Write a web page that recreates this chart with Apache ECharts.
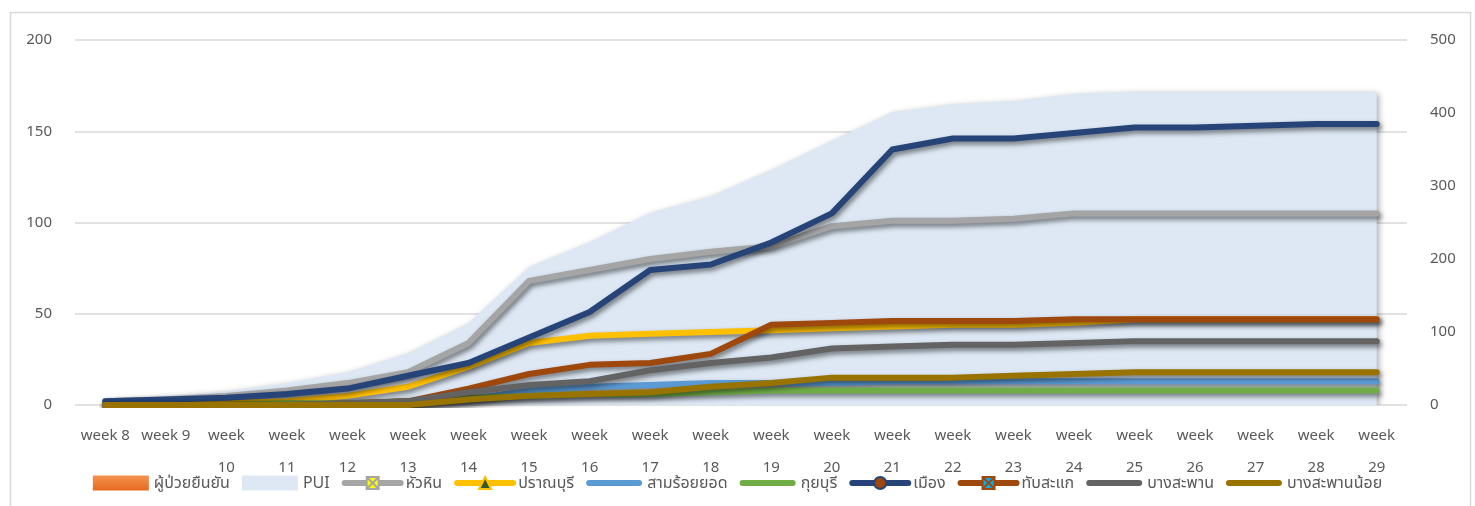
<!DOCTYPE html>
<html>
<head>
<meta charset="utf-8">
<script src="https://cdn.jsdelivr.net/npm/echarts@6/dist/echarts.min.js"></script>
<style>
html,body{margin:0;padding:0;background:#fff;}
#chart{width:1475px;height:506px;}
</style>
</head>
<body>
<div id="chart"></div>
<script>
// ---- data ----
var weeks = ['week 8','week 9','week 10','week 11','week 12','week 13','week 14','week 15','week 16','week 17','week 18','week 19','week 20','week 21','week 22','week 23','week 24','week 25','week 26','week 27','week 28','week 29'];
var confirmed   = [0,0,0,0,0,0,0,0,0,0,0,0,0,0,0,0,0,0,0,0,0,0];
var pui         = [6,12,19,30,45,71,112,189,223,263,286,322,362,401,412,416,426,429,429,429,429,429];
var huaHin      = [2,3,5,8,12,18,34,68,74,80,84,87,98,101,101,102,105,105,105,105,105,105];
var pranburi    = [0,0,1,2,5,10,21,34,38,39,40,41,42,43,44,44,45,47,47,47,47,47];
var samRoiYot   = [0,0,0,0,0,1,3,8,10,11,12,12,12,13,13,13,13,13,13,13,13,13];
var kuiBuri     = [0,0,0,1,1,2,4,5,6,6,7,8,8,8,8,8,8,8,8,8,8,8];
var mueang      = [2,3,4,6,9,16,23,37,51,74,77,89,105,140,146,146,149,152,152,153,154,154];
var thapSakae   = [0,0,0,0,1,2,9,17,22,23,28,44,45,46,46,46,47,47,47,47,47,47];
var bangSaphan  = [0,0,0,0,1,2,7,11,13,19,23,26,31,32,33,33,34,35,35,35,35,35];
var bangSaphanNoi = [0,0,0,0,0,0,3,5,6,7,10,12,15,15,15,16,17,18,18,18,18,18];
var leftTicks = [0,50,100,150,200];
var rightTicks = [0,100,200,300,400,500];

var FONT = "'Noto Sans', 'Noto Sans Thai', 'DejaVu Sans', sans-serif";
var TXT = '#595959';
var shadow = {shadowColor:'rgba(0,0,0,0.5)', shadowBlur:5, shadowOffsetX:2, shadowOffsetY:3};
var BAR_ICON = 'path://M3,0H53A3,3 0 0 1 53,6H3A3,3 0 0 1 3,0Z';

function lineSeries(name, data, color, symbol, itemStyle, z){
  return {
    name: name, type: 'line', data: data, yAxisIndex: 0, z: z,
    symbol: symbol || 'none', symbolSize: 15, showSymbol: false,
    itemStyle: itemStyle || {color: color},
    lineStyle: Object.assign({color: color, width: 6, cap: 'round', join: 'round'}, shadow),
    emphasis: {disabled: true}
  };
}

var chart = echarts.init(document.getElementById('chart'), null, {renderer: 'canvas'});
var option = {
  animation: false,
  backgroundColor: '#fff',
  textStyle: {fontFamily: FONT},
  graphic: [{
    type: 'rect', left: 8, top: 10, z: -10,
    shape: {width: 1460, height: 520},
    style: {fill: 'none', stroke: '#D9D9D9', lineWidth: 1.5}
  }],
  grid: {left: 75, right: 68, top: 40, bottom: 101, containLabel: false},
  legend: {
    left: 'center', top: 470,
    itemWidth: 56, itemHeight: 15, itemGap: 12,
    symbolKeepAspect: true,
    lineStyle: {width: 6, cap: 'round'},
    textStyle: {fontFamily: FONT, fontSize: 16, color: TXT},
    data: [
      {name: 'ผู้ป่วยยืนยัน', icon: 'rect'},
      {name: 'PUI', icon: 'rect', itemStyle: {color: '#DDE8F4'}},
      'หัวหิน','ปราณบุรี',
      {name: 'สามร้อยยอด', icon: BAR_ICON},
      {name: 'กุยบุรี', icon: BAR_ICON},
      'เมือง','ทับสะแก',
      {name: 'บางสะพาน', icon: BAR_ICON},
      {name: 'บางสะพานน้อย', icon: BAR_ICON}
    ]
  },
  xAxis: {
    type: 'category', data: weeks, boundaryGap: true,
    axisLine: {show: false}, axisTick: {show: false},
    axisLabel: {
      interval: 0, margin: 15, color: TXT, fontSize: 15, fontFamily: FONT, lineHeight: 32,
      formatter: function(v){
        var n = parseInt(v.replace('week ',''), 10);
        return n >= 10 ? 'week\n' + n : v;
      }
    }
  },
  yAxis: [{
    type: 'value', min: leftTicks[0], max: leftTicks[leftTicks.length-1], interval: 50,
    axisLine: {show: false}, axisTick: {show: false},
    axisLabel: {color: TXT, fontSize: 15, fontFamily: FONT, margin: 23},
    splitLine: {lineStyle: {color: '#D9D9D9', width: 1.5}}
  }, {
    type: 'value', min: rightTicks[0], max: rightTicks[rightTicks.length-1], interval: 100,
    axisLine: {show: false}, axisTick: {show: false},
    axisLabel: {color: TXT, fontSize: 15, fontFamily: FONT, margin: 23},
    splitLine: {show: false}
  }],
  series: [
    {
      name: 'ผู้ป่วยยืนยัน', type: 'bar', data: confirmed, yAxisIndex: 0,
      itemStyle: {color: new echarts.graphic.LinearGradient(0,0,0,1,[{offset:0,color:'#F4914F'},{offset:1,color:'#E56B1F'}])}
    },
    {
      name: 'PUI', type: 'line', data: pui, yAxisIndex: 1, z: 1,
      symbol: 'none', showSymbol: false,
      lineStyle: {width: 0, color: '#DDE8F4'},
      itemStyle: {color: '#DDE8F4'},
      areaStyle: {color: '#DDE8F4', opacity: 1, shadowColor: 'rgba(0,0,0,0.35)', shadowBlur: 6, shadowOffsetX: 2, shadowOffsetY: 2},
      emphasis: {disabled: true}
    },
    lineSeries('หัวหิน', huaHin, '#A5A5A5',
      'path://M0,0H10V10H0Z M1,1L9,9 M9,1L1,9', {color: '#FFFF00', borderColor: '#A5A5A5', borderWidth: 1.2}, 3),
    lineSeries('ปราณบุรี', pranburi, '#FFC000', 'triangle', {color: '#375623', borderColor: '#FFC000', borderWidth: 1.5}, 4),
    lineSeries('สามร้อยยอด', samRoiYot, '#5B9BD5', 'none', null, 5),
    lineSeries('กุยบุรี', kuiBuri, '#70AD47', 'none', null, 6),
    lineSeries('เมือง', mueang, '#264478', 'circle', {color: '#9E480E', borderColor: '#264478', borderWidth: 1.5}, 7),
    lineSeries('ทับสะแก', thapSakae, '#9E480E',
      'path://M0,0H10V10H0Z M1,1L9,9 M9,1L1,9', {color: '#00B0F0', borderColor: '#9E480E', borderWidth: 1.2}, 8),
    lineSeries('บางสะพาน', bangSaphan, '#636363', 'none', null, 9),
    lineSeries('บางสะพานน้อย', bangSaphanNoi, '#997300', 'none', null, 10)
  ]
};
chart.setOption(option);
</script>
</body>
</html>
